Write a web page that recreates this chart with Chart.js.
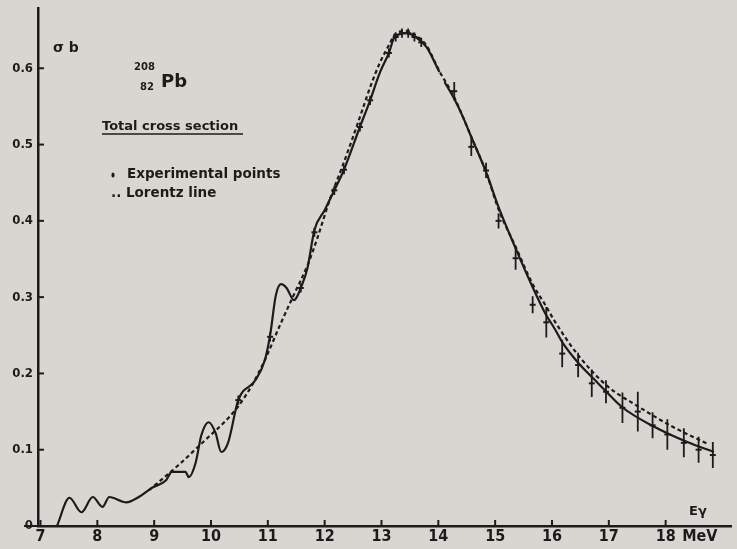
<!DOCTYPE html>
<html>
<head>
<meta charset="utf-8">
<script src="https://cdn.jsdelivr.net/npm/chart.js@4.4.1/dist/chart.umd.min.js"></script>
<style>
  html, body { margin: 0; padding: 0; background: #d9d6d1; }
  #wrap { width: 737px; height: 549px; }
</style>
</head>
<body>
<div id="wrap"><canvas id="pb-cross" width="737" height="549"></canvas></div>
<script>
// photo-neutron total cross section of 208Pb
const xTicks = [7, 8, 9, 10, 11, 12, 13, 14, 15, 16, 17, 18];
const yTicks = [0, 0.1, 0.2, 0.3, 0.4, 0.5, 0.6];
const unitTickAt = 18.6;   // where "MeV" sits on the energy axis

// solid curve drawn through the experimental points (null = pen gap)
const expE = [7.29, 7.51, 7.72, 7.92, 8.09, 8.21, 8.51, 8.73, 8.96, 9.21, 9.31, 9.55, 9.61, 9.73, 9.83, 9.96,
  10.08, 10.18, 10.30, 10.48, 10.78, 10.95, 11.04, 11.14, 11.23, 11.33, 11.46, 11.51, 11.58, 11.70, 11.82,
  12.00, 12.17, 12.34, 12.62, 12.80, 12.97, 13.13, 13.23, 13.44, 13.62, 13.79, 14.02, 14.06, 14.11, 14.28,
  14.44, 14.58, 14.84, 15.06, 15.36, 15.66, 15.88, 16.06, 16.18, 16.46, 16.76, 16.93, 17.23, 17.80, 18.38, 18.85];
const expSigma = [0, 0.037, 0.018, 0.038, 0.025, 0.038, 0.031, 0.038, 0.050, 0.060, 0.071, 0.071, 0.064, 0.083, 0.119, 0.136,
  0.122, 0.097, 0.109, 0.165, 0.191, 0.218, 0.250, 0.302, 0.317, 0.312, 0.296, 0.300, 0.312, 0.339, 0.388,
  0.414, 0.440, 0.467, 0.523, 0.558, 0.594, 0.620, 0.641, 0.646, 0.640, 0.628, 0.595, null, 0.582, 0.560,
  0.535, 0.510, 0.464, 0.418, 0.364, 0.313, 0.279, 0.257, 0.241, 0.214, 0.191, 0.178, 0.156, 0.130, 0.110, 0.097];

// dashed Lorentz line
const lorE = [8.91, 9.43, 9.96, 10.22, 10.48, 10.74, 10.95, 11.23, 11.47, 11.70, 11.87, 12.10, 12.31, 12.48,
  12.62, 12.80, 12.97, 13.15, 13.23, 13.44, 13.62, 13.79, 14.02, 14.28, 14.58, 14.84, 15.06, 15.36, 15.66,
  15.88, 16.06, 16.46, 16.98, 17.51, 18.10, 18.76];
const lorSigma = [0.047, 0.080, 0.117, 0.135, 0.157, 0.187, 0.218, 0.266, 0.305, 0.342, 0.377, 0.430, 0.471, 0.506,
  0.536, 0.575, 0.607, 0.633, 0.644, 0.649, 0.642, 0.630, 0.596, 0.562, 0.510, 0.464, 0.415, 0.366, 0.317,
  0.290, 0.267, 0.224, 0.183, 0.157, 0.131, 0.107];

// experimental points with their error bars
const ptE = [10.48, 11.04, 11.58, 11.82, 12.17, 12.34, 12.62, 12.80, 13.13, 13.25, 13.36, 13.47, 13.58, 13.70,
  14.28, 14.58, 14.84, 15.06, 15.36, 15.66, 15.90, 16.18, 16.46, 16.70, 16.95, 17.24, 17.51, 17.77, 18.03,
  18.32, 18.58, 18.83];
const ptSigma = [0.165, 0.248, 0.312, 0.385, 0.440, 0.467, 0.523, 0.558, 0.620, 0.641, 0.646, 0.646, 0.641, 0.634,
  0.570, 0.497, 0.466, 0.400, 0.351, 0.290, 0.267, 0.226, 0.211, 0.187, 0.176, 0.155, 0.150, 0.132, 0.120,
  0.109, 0.100, 0.093];
const ptErr = [0.006, 0.006, 0.006, 0.006, 0.006, 0.006, 0.006, 0.006, 0.006, 0.006, 0.006, 0.006, 0.006, 0.006,
  0.012, 0.012, 0.010, 0.010, 0.015, 0.011, 0.020, 0.018, 0.016, 0.018, 0.015, 0.020, 0.026, 0.017, 0.020,
  0.019, 0.017, 0.017];

const ink = '#1b1b1b';
const paper = '#d9d6d1';
const tickFont = '"DejaVu Sans Condensed", "DejaVu Sans", sans-serif';
const noteFont = '"DejaVu Sans", sans-serif';

const toXY = (xs, ys) => xs.map((x, i) => ({ x: x, y: ys[i] }));

// each error bar is a little two point segment, separated by gaps
const errSegments = [];
ptE.forEach((x, i) => {
  errSegments.push({ x: x, y: ptSigma[i] - ptErr[i] });
  errSegments.push({ x: x, y: ptSigma[i] + ptErr[i] });
  errSegments.push({ x: x, y: null });
});

const paperPlugin = {
  id: 'paper',
  beforeDraw(chart) {
    const ctx = chart.ctx;
    ctx.save();
    ctx.fillStyle = paper;
    ctx.fillRect(0, 0, chart.width, chart.height);
    ctx.restore();
  },
  afterDraw(chart) {
    const ctx = chart.ctx;
    const xs = chart.scales.x, ys = chart.scales.y;
    const area = chart.chartArea;
    ctx.save();
    ctx.strokeStyle = ink;
    ctx.fillStyle = ink;
    ctx.lineWidth = 2;
    // axis stub left of the origin
    ctx.beginPath();
    ctx.moveTo(24, area.bottom);
    ctx.lineTo(area.left, area.bottom);
    ctx.stroke();
    // inward tick marks
    xTicks.forEach(v => {
      const px = xs.getPixelForValue(v);
      ctx.beginPath();
      ctx.moveTo(px, area.bottom);
      ctx.lineTo(px, area.bottom - 6);
      ctx.stroke();
    });
    yTicks.slice(1).forEach(v => {
      const py = ys.getPixelForValue(v);
      ctx.beginPath();
      ctx.moveTo(area.left, py);
      ctx.lineTo(area.left + 6, py);
      ctx.stroke();
    });

    // lettering
    ctx.textBaseline = 'alphabetic';
    ctx.font = 'bold 14px ' + noteFont;
    ctx.fillText('σ b', 53, 52);
    ctx.font = 'bold 10px ' + noteFont;
    ctx.fillText('208', 134, 70);
    ctx.fillText('82', 140, 90);
    ctx.font = 'bold 18px ' + noteFont;
    ctx.fillText('Pb', 161, 87);
    ctx.font = 'bold 13px ' + noteFont;
    ctx.fillText('Total cross section', 102, 130);
    ctx.lineWidth = 1.5;
    ctx.beginPath();
    ctx.moveTo(102, 134);
    ctx.lineTo(243, 134);
    ctx.stroke();
    ctx.font = 'bold 13.5px ' + noteFont;
    ctx.fillText('Experimental points', 127, 178);
    ctx.beginPath();
    ctx.ellipse(113, 175, 1.6, 2.6, 0, 0, Math.PI * 2);
    ctx.fill();
    ctx.fillText('.. Lorentz line', 111, 197);
    ctx.font = 'bold 13px ' + noteFont;
    ctx.fillText('Eγ', 689, 515);
    ctx.restore();
  }
};

const config = {
  type: 'line',
  data: {
    datasets: [
      {
        label: 'Experimental',
        data: toXY(expE, expSigma),
        borderColor: ink,
        borderWidth: 2.2,
        pointRadius: 0,
        cubicInterpolationMode: 'monotone',
        spanGaps: false
      },
      {
        label: 'Lorentz line',
        data: toXY(lorE, lorSigma),
        borderColor: ink,
        borderWidth: 2.2,
        borderDash: [4, 3],
        pointRadius: 0,
        cubicInterpolationMode: 'monotone'
      },
      {
        label: 'Error bars',
        data: errSegments,
        borderColor: ink,
        borderWidth: 1.8,
        pointRadius: 0,
        spanGaps: false
      },
      {
        label: 'Experimental points',
        data: toXY(ptE, ptSigma),
        showLine: false,
        pointStyle: 'line',
        pointRadius: 3,
        borderColor: ink,
        borderWidth: 2
      }
    ]
  },
  options: {
    responsive: false,
    animation: false,
    layout: { padding: { top: 8, right: 0, left: 0, bottom: 0 } },
    plugins: {
      legend: { display: false },
      tooltip: { enabled: false }
    },
    scales: {
      x: {
        type: 'linear',
        min: 6.956,
        max: 19.15,
        afterFit: s => { s.height = 23; },
        afterBuildTicks: s => {
          s.ticks = xTicks.map(v => ({ value: v })).concat([{ value: unitTickAt }]);
        },
        ticks: {
          autoSkip: false,
          maxRotation: 0,
          padding: -7,
          color: ink,
          font: { family: tickFont, size: 16, weight: 'bold' },
          callback: v => (v === unitTickAt ? 'MeV' : String(v))
        },
        grid: { display: false },
        border: { display: true, color: ink, width: 2.5 }
      },
      y: {
        type: 'linear',
        min: 0,
        max: 0.679,
        afterFit: s => { s.width = 38; },
        afterBuildTicks: s => {
          s.ticks = yTicks.map(v => ({ value: v }));
        },
        ticks: {
          padding: -3,
          color: ink,
          font: { family: tickFont, size: 13, weight: 'bold' },
          callback: v => (v === 0 ? '0' : v.toFixed(1))
        },
        grid: { display: false },
        border: { display: true, color: ink, width: 2.5 }
      }
    }
  },
  plugins: [paperPlugin]
};

const sigmaChart = new Chart(document.getElementById('pb-cross'), config);
</script>
</body>
</html>
